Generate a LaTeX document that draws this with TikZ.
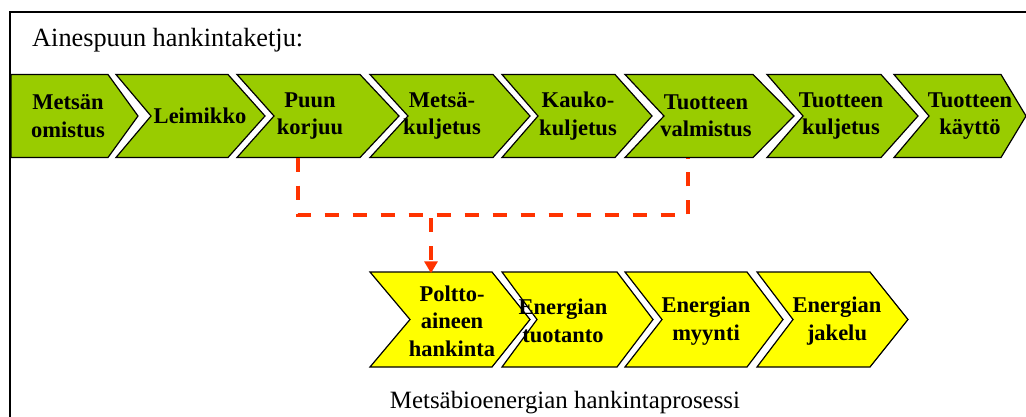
\documentclass[tikz,border=0pt]{standalone}
\usepackage{fontspec}
\setmainfont{Liberation Serif}
\usetikzlibrary{arrows.meta}
\definecolor{chevgreen}{RGB}{153,204,0}
\definecolor{chevyellow}{RGB}{255,255,0}
\definecolor{linkred}{RGB}{255,51,0}
\begin{document}
\begin{tikzpicture}[x=1pt,y=-1pt,
  greenchev/.style={fill=chevgreen,draw=black,line width=1.2pt,line join=miter},
  yellowchev/.style={fill=chevyellow,draw=black,line width=1.2pt,line join=miter},
  stepg/.style={inner sep=0pt,align=center,minimum height=83pt,
    font=\fontsize{22.5}{27.5}\selectfont\bfseries},
  stepy/.style={stepg,minimum height=95pt},
  link/.style={draw=linkred,line width=4pt,dash pattern=on 14pt off 14pt},
  heading/.style={inner sep=0pt,font=\fontsize{26.3}{30}\selectfont},
  caption/.style={inner sep=0pt,font=\fontsize{24.9}{29}\selectfont}]
\useasboundingbox (0,0) rectangle (1026,417);

% outer frame (continues past the right and bottom edges)
\begin{scope}
  \clip (0,0) rectangle (1026,417);
  \draw[line width=2pt] (9.5,12) rectangle (1040,430);
\end{scope}

\node[heading,anchor=base west] (title) at (32,47) {Ainespuun hankintaketju:};

% green chain: top 74.5, bottom 157.5, middle 116
\path[greenchev] (11,74.5) -- (108,74.5) -- (138,116) -- (108,157.5) -- (11,157.5) -- cycle;
\path[greenchev] (116,74.5) -- (228,74.5) -- (265,116) -- (228,157.5) -- (116,157.5) -- (151,116) -- cycle;
\path[greenchev] (237,74.5) -- (360,74.5) -- (399,116) -- (360,157.5) -- (237,157.5) -- (274,116) -- cycle;
\path[greenchev] (370,74.5) -- (493,74.5) -- (530,116) -- (493,157.5) -- (370,157.5) -- (408,116) -- cycle;
\path[greenchev] (502,74.5) -- (615,74.5) -- (652,116) -- (615,157.5) -- (502,157.5) -- (538,116) -- cycle;
\path[greenchev] (625,74.5) -- (753,74.5) -- (794,116) -- (753,157.5) -- (625,157.5) -- (664,116) -- cycle;
\path[greenchev] (767,74.5) -- (881,74.5) -- (918,116) -- (881,157.5) -- (767,157.5) -- (803,116) -- cycle;
\path[greenchev] (894,74.5) -- (1001,74.5) -- (1026,116) -- (1001,157.5) -- (894,157.5) -- (929,116) -- cycle;

\node[stepg] (g1) at (68,116) {Metsän\\omistus};
\node[stepg] (g2) at (200,116) {Leimikko};
\node[stepg] (g3) at (310,116) {Puun\\korjuu};
\node[stepg] (g4) at (442,116) {Metsä-\\kuljetus};
\node[stepg] (g5) at (578,116) {Kauko-\\kuljetus};
\node[stepg] (g6) at (706,116) {Tuotteen\\valmistus};
\node[stepg] (g7) at (841,116) {Tuotteen\\kuljetus};
\node[stepg] (g8) at (970,116) {Tuotteen\\käyttö};

% yellow chain: top 272, bottom 367, middle 319.5
\path[yellowchev] (370,272) -- (492,272) -- (530,319.5) -- (492,367) -- (370,367) -- (410,319.5) -- cycle;
\path[yellowchev] (502,272) -- (617,272) -- (653,319.5) -- (617,367) -- (502,367) -- (537,319.5) -- cycle;
\path[yellowchev] (625,272) -- (747,272) -- (783,319.5) -- (747,367) -- (625,367) -- (662,319.5) -- cycle;
\path[yellowchev] (757,272) -- (870,272) -- (908,319.5) -- (870,367) -- (757,367) -- (793,319.5) -- cycle;

\node[stepy] (y1) at (452,321) {Poltto-\\aineen\\hankinta};
\node[stepy] (y2) at (563,321) {Energian\\tuotanto};
\node[stepy] (y3) at (706,321) {Energian\\myynti};
\node[stepy] (y4) at (837,321) {Energian\\jakelu};

% dashed link between the two chains
\coordinate (j1) at (298,215);
\coordinate (j2) at (688,215);
\coordinate (j0) at (431,215);
\draw[link] (j1 |- g3.south) -- (j1) -- (j2) -- (j2 |- g6.south);
\draw[link,-{Triangle[width=13pt,length=12pt]}] (j0) ++(0,3) -- (j0 |- y1.north);

\node[caption,anchor=base] (cap) at (565,408) {Metsäbioenergian hankintaprosessi};
\end{tikzpicture}
\end{document}
